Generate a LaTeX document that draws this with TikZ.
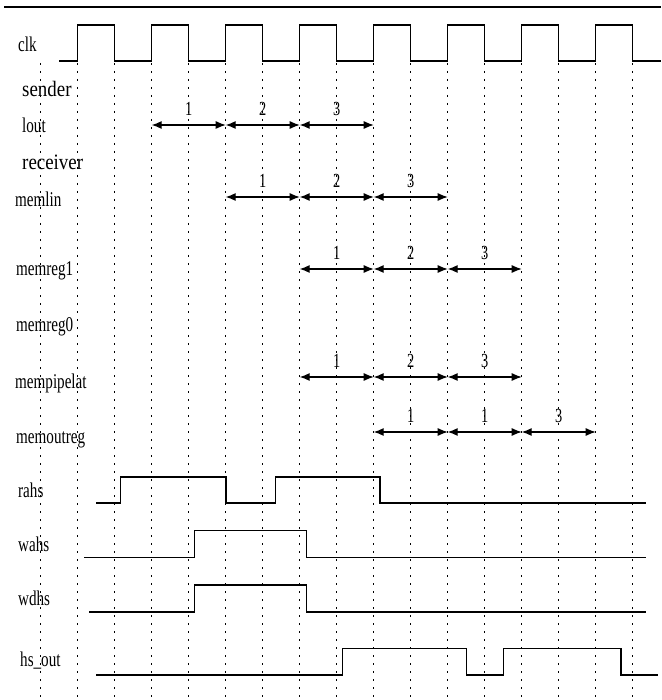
\documentclass[tikz,border=0pt]{standalone}
\usepackage{fontspec}
\setmainfont{Liberation Serif}
\newfontfamily\namefont[FakeStretch=0.72]{Liberation Serif}
\newfontfamily\groupfont[FakeStretch=0.86]{Liberation Serif}
\usetikzlibrary{arrows.meta}

\tikzset{
  sig/.style={anchor=base west, inner sep=0pt, font=\namefont\fontsize{21}{24}\selectfont},
  grp/.style={anchor=base west, inner sep=0pt, font=\groupfont\fontsize{22}{25}\selectfont},
  wave/.style={line width=1.1pt},
  tick/.style={line width=1pt, dash pattern=on 2pt off 6pt},
  span/.style={{Latex[length=10pt,width=8pt]}-{Latex[length=10pt,width=8pt]}, line width=1.1pt},
  num/.style={above=9pt, inner sep=0pt, font=\namefont\fontsize{20}{22}\selectfont}
}

\begin{document}
\begin{tikzpicture}[x=1pt,y=-1pt]
  \useasboundingbox (0,0) rectangle (661,700);

  % time grid, one line every half clock period
  \foreach \i in {0,...,16}
    \coordinate (t\i) at ({40.7+37*\i},0);
  \foreach \i in {0,...,16}
    \draw[tick] (t\i |- 0,63) -- (t\i |- 0,700);

  \draw[line width=1.4pt] (4,7) -- (661,7);

  % signal names
  \node[sig] (clk label) at (18,52) {clk};
  \node[grp] (sender label) at (22,96.5) {sender};
  \node[sig] (lout label) at (22,133) {lout};
  \node[grp] (receiver label) at (22,170) {receiver};
  \node[sig] (memlin label) at (15,206.5) {memlin};
  \node[sig] (memreg1 label) at (16,275) {memreg1};
  \node[sig] (memreg0 label) at (16,331) {memreg0};
  \node[sig] (mempipelat label) at (15,388) {mempipelat};
  \node[sig] (memoutreg label) at (16,443) {memoutreg};
  \node[sig] (rahs label) at (18,497) {rahs};
  \node[sig] (wahs label) at (18,551) {wahs};
  \node[sig] (wdhs label) at (18,605) {wdhs};
  \node[sig] (hs out label) at (20,666) {hs\_out};

  % clock
  \coordinate (clk lo) at (0,61);
  \coordinate (clk hi) at (0,25);
  \draw[wave] (59.3,61)
    \foreach \k [evaluate=\k as \n using int(\k+1)] in {1,3,...,15} {
      -- (t\k |- clk lo) -- (t\k |- clk hi) -- (t\n |- clk hi) -- (t\n |- clk lo)
    } -- (661,61);

  % data words in flight
  \coordinate (lout) at (0,125);
  \coordinate (memlin) at (0,197);
  \coordinate (memreg1) at (0,269);
  \coordinate (mempipelat) at (0,377);
  \coordinate (memoutreg) at (0,432);
  \foreach \row/\s/\la/\lb/\lc in {lout/3/1/2/3, memlin/5/1/2/3, memreg1/7/1/2/3,
                                   mempipelat/7/1/2/3, memoutreg/9/1/1/3} {
    \pgfmathtruncatemacro\m{\s+2}
    \pgfmathtruncatemacro\n{\s+4}
    \pgfmathtruncatemacro\o{\s+6}
    \draw[span] (t\s |- \row) -- node[num] {\la} (t\m |- \row);
    \draw[span] (t\m |- \row) -- node[num] {\lb} (t\n |- \row);
    \draw[span] (t\n |- \row) -- node[num] {\lc} (t\o |- \row);
  }

  % handshakes
  \draw[wave] (96,503) -| (120.7,477) -| (226,503) -| (275.3,477) -| (380,503) -- (645.7,503);
  \draw[wave] (84,557.7) -| (194.7,530.7) -| (306.7,557.7) -- (645.7,557.7);
  \draw[wave] (89.3,612) -| (194.7,585) -| (306.7,612) -- (645.7,612);
  \draw[wave] (96,675) -| (342.7,648.3) -| (466.7,675) -| (503.3,648.3) -| (621,675) -- (657.7,675);
\end{tikzpicture}
\end{document}
